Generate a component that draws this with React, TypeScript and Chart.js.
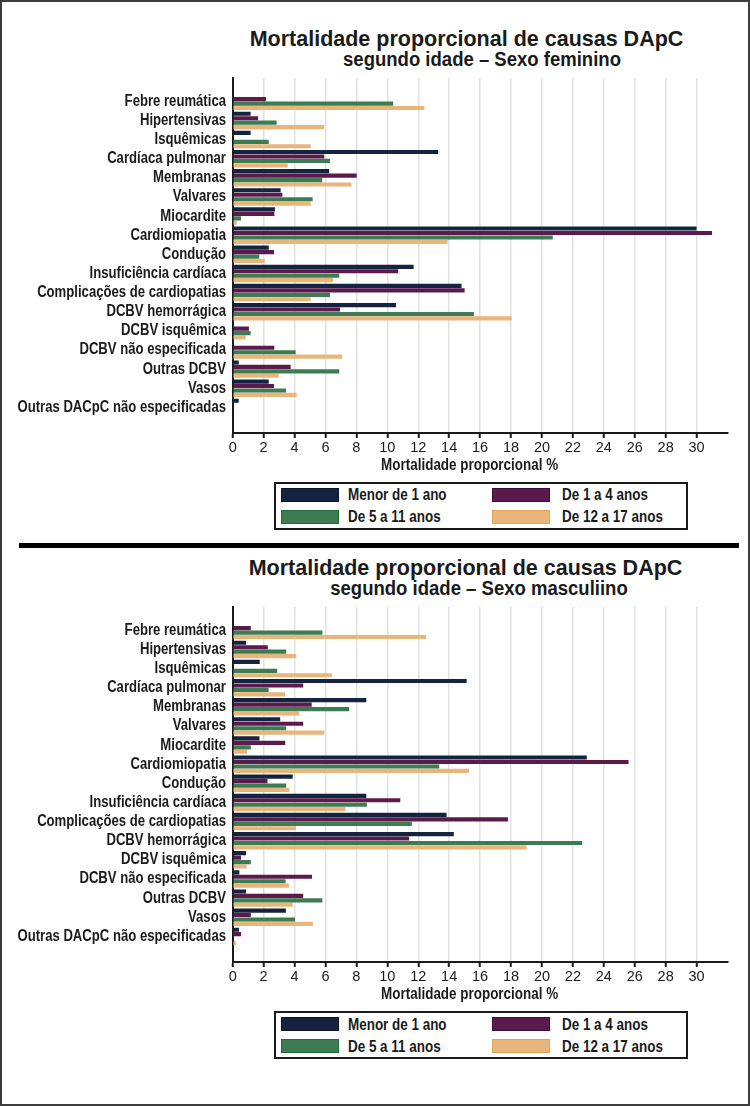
import React, { useEffect, useRef } from "react";
import { Chart, registerables } from "chart.js";

Chart.register(...registerables);

const CATEGORIES = [
  "Febre reumática",
  "Hipertensivas",
  "Isquêmicas",
  "Cardíaca pulmonar",
  "Membranas",
  "Valvares",
  "Miocardite",
  "Cardiomiopatia",
  "Condução",
  "Insuficiência cardíaca",
  "Complicações de cardiopatias",
  "DCBV hemorrágica",
  "DCBV isquêmica",
  "DCBV não especificada",
  "Outras DCBV",
  "Vasos",
  "Outras DACpC não especificadas",
];

const SERIES_NAMES = ["Menor de 1 ano", "De 1 a 4 anos", "De 5 a 11 anos", "De 12 a 17 anos"];
const SERIES_COLORS = ["#14233f", "#5c1a4c", "#3d7c52", "#e8b57b"];
const SWATCH_BORDERS = ["#0a1428", "#3f0f33", "#236b3b", "#e0a35e"];

const X_TICKS = [0, 2, 4, 6, 8, 10, 12, 14, 16, 18, 20, 22, 24, 26, 28, 30];

// Sexo feminino
const FEM_MENOR1 = [0, 1.16, 1.16, 13.29, 6.24, 3.1, 2.73, 30.0, 2.33, 11.7, 14.8, 10.56, 0, 0, 0.39, 2.33, 0.39];
const FEM_1A4 = [2.15, 1.64, 0, 5.92, 8.02, 3.21, 2.69, 31.0, 2.67, 10.7, 15.0, 6.94, 1.05, 2.69, 3.75, 2.67, 0];
const FEM_5A11 = [10.38, 2.84, 2.33, 6.29, 5.79, 5.17, 0.54, 20.7, 1.72, 6.89, 6.29, 15.6, 1.16, 4.07, 6.89, 3.45, 0];
const FEM_12A17 = [12.39, 5.92, 5.04, 3.56, 7.69, 5.04, 0.26, 13.9, 2.07, 6.5, 5.04, 18.05, 0.84, 7.08, 2.97, 4.14, 0];

// Sexo masculino
const MAS_MENOR1 = [0, 0.86, 1.75, 15.13, 8.64, 3.07, 1.73, 22.9, 3.88, 8.64, 13.83, 14.3, 0.86, 0.43, 0.86, 3.44, 0.41];
const MAS_1A4 = [1.17, 2.27, 0, 4.56, 5.11, 4.56, 3.4, 25.6, 2.25, 10.84, 17.8, 11.41, 0.54, 5.13, 4.56, 1.17, 0.54];
const MAS_5A11 = [5.8, 3.46, 2.88, 2.32, 7.53, 3.46, 1.17, 13.36, 3.46, 8.68, 11.58, 22.6, 1.17, 3.42, 5.8, 4.03, 0];
const MAS_12A17 = [12.5, 4.11, 6.41, 3.38, 4.31, 5.93, 0.93, 15.28, 3.66, 7.29, 4.09, 19.0, 0.91, 3.64, 3.88, 5.19, 0.2];

const TITLE = "Mortalidade proporcional de causas DApC";
const SUB_FEM = "segundo idade – Sexo feminino";
const SUB_MAS = "segundo idade – Sexo masculiino";
const X_TITLE = "Mortalidade proporcional %";

const SANS = "'Liberation Sans', Arial, sans-serif";
const INK = "#1a1a1a";
const Y_MIN = -1.22;
const Y_MAX = 17.34;
const NARROW_RATIO = 0.82;

// Draw a scale's tick labels horizontally condensed (Arial Narrow look), anchored at the axis line.
function condenseYLabels(s: any) {
  if (s.__condensed) return;
  s.__condensed = true;
  s._computeLabelArea = () => undefined;
  const orig = s.drawLabels.bind(s);
  s.drawLabels = (area: any) => {
    const ctx = s.ctx;
    const x0 = s.right;
    ctx.save();
    ctx.translate(x0, 0);
    ctx.scale(NARROW_RATIO, 1);
    ctx.translate(-x0, 0);
    orig(area);
    ctx.restore();
  };
}

function condenseXTitle(s: any) {
  if (s.__condensedTitle) return;
  s.__condensedTitle = true;
  const orig = s.drawTitle.bind(s);
  s.drawTitle = (...args: any[]) => {
    const ctx = s.ctx;
    const cx = (s.left + s.right) / 2;
    ctx.save();
    ctx.translate(cx - 10.5, 0);
    ctx.scale(0.84, 1);
    ctx.translate(-cx, 0);
    orig(...args);
    ctx.restore();
  };
}

function BarPanel({ series }: { series: number[][] }) {
  const ref = useRef<HTMLCanvasElement | null>(null);
  useEffect(() => {
    if (!ref.current) return;
    const chart = new Chart(ref.current, {
      type: "bar",
      data: {
        datasets: series.map((vals, k) => ({
          label: SERIES_NAMES[k],
          data: vals.map((v, i) => ({ x: v, y: i })),
          backgroundColor: SERIES_COLORS[k],
          borderWidth: 0,
          categoryPercentage: 0.93,
          barPercentage: 0.93,
        })),
      },
      options: {
        indexAxis: "y",
        responsive: false,
        animation: false,
        devicePixelRatio: 1,
        layout: { padding: { left: 0, right: 22.5, top: 8, bottom: 0 } },
        plugins: { legend: { display: false }, tooltip: { enabled: false }, title: { display: false } },
        scales: {
          x: {
            type: "linear",
            position: "bottom",
            bounds: "data",
            min: 0,
            max: 32,
            afterBuildTicks: (s: any) => {
              s.ticks = X_TICKS.map((v) => ({ value: v }));
              s.min = 0;
              s.max = 32;
            },
            afterFit: (s: any) => {
              s.height = 42;
              s.paddingLeft = 0;
              s.paddingRight = 0;
              condenseXTitle(s);
            },
            grid: {
              color: "#e2e2e2",
              lineWidth: 1.5,
              drawTicks: true,
              tickLength: 5,
              tickColor: INK,
              tickWidth: 2,
            },
            border: { display: true, color: INK, width: 2 },
            ticks: {
              color: INK,
              font: { family: SANS, size: 14.5 },
              padding: 1,
              maxRotation: 0,
              autoSkip: false,
            },
            title: {
              display: true,
              text: X_TITLE,
              color: INK,
              font: { family: SANS, size: 16, weight: "bold" },
              padding: { top: 0, bottom: 0 },
            },
          },
          y: {
            type: "linear",
            reverse: true,
            bounds: "data",
            offset: false,
            min: Y_MIN,
            max: Y_MAX,
            afterBuildTicks: (s: any) => {
              s.ticks = CATEGORIES.map((_, i) => ({ value: i }));
              s.min = Y_MIN;
              s.max = Y_MAX;
            },
            afterFit: (s: any) => {
              s.width = 232.7;
              s.paddingTop = 0;
              s.paddingBottom = 0;
              condenseYLabels(s);
            },
            grid: { display: false, drawTicks: false },
            border: { display: true, color: INK, width: 2 },
            ticks: {
              color: INK,
              font: { family: SANS, size: 16, weight: "bold" },
              padding: 8.2,
              autoSkip: false,
              callback: (v: any) => CATEGORIES[v] ?? "",
            },
          },
        },
      },
    } as any);
    return () => chart.destroy();
  }, [series]);
  return <canvas ref={ref} width={750} height={405} style={{ display: "block" }} />;
}

function Legend({ top }: { top: number }) {
  const items = SERIES_NAMES.map((name, k) => {
    const col = k % 2;
    const row = Math.floor(k / 2);
    const swLeft = col === 0 ? 5 : 216;
    const txtLeft = col === 0 ? 72 : 286;
    const swTop = row === 0 ? 4.3 : 26.3;
    const txtCenter = row === 0 ? 11.3 : 33.3;
    return (
      <React.Fragment key={name}>
        <div
          style={{
            position: "absolute",
            left: swLeft,
            top: swTop,
            width: 58,
            height: 14,
            boxSizing: "border-box",
            background: SERIES_COLORS[k],
            border: `1.5px solid ${SWATCH_BORDERS[k]}`,
          }}
        />
        <div
          style={{
            position: "absolute",
            left: txtLeft,
            top: txtCenter - 7.8,
            fontFamily: SANS,
            fontWeight: "bold",
            fontSize: 16,
            lineHeight: "16px",
            color: INK,
            whiteSpace: "nowrap",
            transform: "scaleX(0.84)",
            transformOrigin: "0 50%",
          }}
        >
          {name}
        </div>
      </React.Fragment>
    );
  });
  return (
    <div
      style={{
        position: "absolute",
        left: 274,
        top,
        width: 414,
        height: 48.3,
        boxSizing: "border-box",
        border: `2px solid ${INK}`,
        background: "#fff",
      }}
    >
      {items}
    </div>
  );
}

function Heading({ text, size, baseline, center, sx }: { text: string; size: number; baseline: number; center: number; sx: number }) {
  return (
    <div
      style={{
        position: "absolute",
        left: center - 350,
        width: 700,
        top: baseline - 0.8465 * size,
        textAlign: "center",
        fontFamily: SANS,
        fontWeight: "bold",
        fontSize: size,
        lineHeight: `${size}px`,
        color: INK,
        whiteSpace: "nowrap",
        transform: `scaleX(${sx})`,
        transformOrigin: "50% 50%",
      }}
    >
      {text}
    </div>
  );
}

const FEM_SERIES = [FEM_MENOR1, FEM_1A4, FEM_5A11, FEM_12A17];
const MAS_SERIES = [MAS_MENOR1, MAS_1A4, MAS_5A11, MAS_12A17];

export default function App() {
  const shift = 529.3;
  return (
    <div
      style={{
        position: "absolute",
        left: 0,
        top: 0,
        width: 750,
        height: 1106,
        background: "#fff",
        overflow: "hidden",
      }}
    >
      <Heading text={TITLE} size={21.5} baseline={46.7} center={466.5} sx={1} />
      <Heading text={SUB_FEM} size={19.5} baseline={66.7} center={481.5} sx={0.95} />
      <div style={{ position: "absolute", left: 0, top: 70 }}>
        <BarPanel series={FEM_SERIES} />
      </div>
      <Legend top={481.7} />

      <div style={{ position: "absolute", left: 19, top: 543, width: 720, height: 5, background: "#000" }} />

      <Heading text={TITLE} size={21.5} baseline={46.7 + shift} center={465.5} sx={1} />
      <Heading text={SUB_MAS} size={19.5} baseline={66.7 + shift} center={478.5} sx={0.95} />
      <div style={{ position: "absolute", left: 0, top: 70 + shift }}>
        <BarPanel series={MAS_SERIES} />
      </div>
      <Legend top={481.7 + shift} />

      <div
        style={{
          position: "absolute",
          left: 0,
          top: 0,
          width: 750,
          height: 1106,
          boxSizing: "border-box",
          border: "2px solid #3c3c3c",
          pointerEvents: "none",
        }}
      />
    </div>
  );
}
